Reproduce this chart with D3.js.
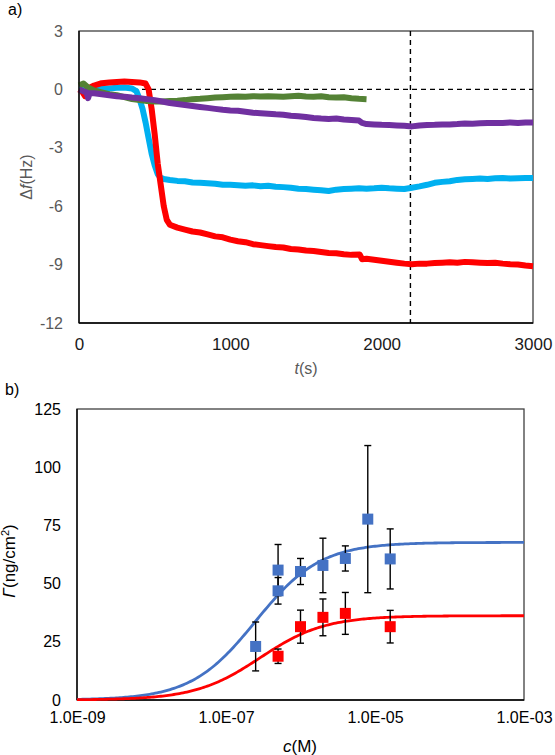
<!DOCTYPE html>
<html><head><meta charset="utf-8">
<script src="https://cdn.jsdelivr.net/npm/d3@7"></script>
<style>
html,body{margin:0;padding:0;background:#fff;}
svg{display:block;font-family:"Liberation Sans",Arial,sans-serif;}
</style></head>
<body>
<svg id="chart" width="555" height="755"></svg>
<script>
// ---------- Panel a) data: time (s), Δf (Hz) ----------
const redSeries = [[0,0],[20,-0.1],[40,-0.35],[60,0.05],[100,0.2],[150,0.32],[200,0.35],[250,0.38],[300,0.4],[350,0.38],[400,0.36],[440,0.3],[460,0.0],[480,-1.0],[500,-2.3],[520,-3.8],[540,-4.9],[560,-6.0],[580,-6.7],[600,-6.95],[650,-7.1],[700,-7.2],[750,-7.3],[800,-7.35],[850,-7.45],[900,-7.55],[950,-7.6],[1000,-7.72],[1050,-7.8],[1100,-7.85],[1150,-7.95],[1200,-8.0],[1250,-8.05],[1300,-8.1],[1350,-8.12],[1400,-8.2],[1450,-8.22],[1500,-8.28],[1550,-8.3],[1600,-8.35],[1650,-8.4],[1700,-8.42],[1750,-8.47],[1800,-8.5],[1855,-8.48],[1870,-8.72],[1900,-8.7],[1950,-8.75],[2000,-8.8],[2050,-8.85],[2100,-8.9],[2150,-8.95],[2200,-8.98],[2250,-8.95],[2300,-8.95],[2350,-8.92],[2400,-8.9],[2450,-8.88],[2500,-8.9],[2550,-8.86],[2600,-8.88],[2650,-8.9],[2700,-8.92],[2750,-8.9],[2800,-8.95],[2850,-8.98],[2900,-9.0],[2950,-9.05],[3000,-9.08]];
const cyanSeries = [[0,0.0],[50,-0.05],[100,0.0],[150,0.05],[200,0.05],[250,0.08],[300,0.1],[350,0.05],[380,-0.1],[400,-0.5],[420,-1.0],[440,-1.7],[460,-2.5],[480,-3.3],[500,-3.9],[520,-4.35],[540,-4.55],[560,-4.6],[600,-4.65],[650,-4.7],[700,-4.72],[750,-4.78],[800,-4.8],[850,-4.82],[900,-4.85],[950,-4.9],[1000,-4.9],[1050,-4.92],[1100,-4.95],[1150,-4.93],[1200,-4.97],[1250,-4.95],[1300,-5.0],[1350,-5.02],[1400,-5.05],[1450,-5.1],[1500,-5.12],[1550,-5.15],[1600,-5.18],[1650,-5.22],[1700,-5.15],[1750,-5.12],[1800,-5.1],[1850,-5.08],[1900,-5.1],[1950,-5.08],[2000,-5.05],[2050,-5.08],[2100,-5.1],[2150,-5.12],[2200,-5.05],[2250,-4.98],[2300,-4.9],[2350,-4.8],[2400,-4.75],[2450,-4.72],[2500,-4.65],[2550,-4.62],[2600,-4.6],[2650,-4.58],[2700,-4.6],[2750,-4.57],[2800,-4.55],[2850,-4.58],[2900,-4.56],[2950,-4.55],[3000,-4.55]];
const greenSeries = [[0,0.2],[30,0.3],[60,0.1],[100,-0.05],[150,-0.15],[200,-0.25],[250,-0.3],[300,-0.4],[350,-0.5],[400,-0.55],[450,-0.6],[500,-0.62],[550,-0.62],[600,-0.6],[650,-0.58],[700,-0.55],[750,-0.5],[800,-0.48],[850,-0.45],[900,-0.42],[950,-0.4],[1000,-0.38],[1050,-0.36],[1100,-0.38],[1150,-0.35],[1200,-0.37],[1250,-0.35],[1300,-0.36],[1350,-0.38],[1400,-0.35],[1450,-0.33],[1500,-0.36],[1550,-0.38],[1600,-0.35],[1650,-0.4],[1700,-0.42],[1750,-0.4],[1800,-0.45],[1850,-0.48],[1900,-0.5]];
const purpleSeries = [[0,0.0],[30,-0.1],[50,-0.15],[60,-0.45],[70,-0.2],[100,-0.2],[150,-0.25],[200,-0.3],[250,-0.35],[300,-0.38],[350,-0.42],[400,-0.45],[450,-0.5],[500,-0.55],[550,-0.62],[600,-0.7],[650,-0.75],[700,-0.8],[750,-0.85],[800,-0.9],[850,-0.95],[900,-1.0],[950,-1.05],[1000,-1.08],[1050,-1.1],[1100,-1.15],[1150,-1.2],[1200,-1.22],[1250,-1.25],[1300,-1.28],[1350,-1.3],[1400,-1.35],[1450,-1.38],[1500,-1.42],[1550,-1.47],[1600,-1.5],[1650,-1.52],[1700,-1.5],[1750,-1.55],[1800,-1.57],[1850,-1.6],[1870,-1.72],[1900,-1.78],[1950,-1.8],[2000,-1.82],[2050,-1.83],[2100,-1.85],[2150,-1.87],[2200,-1.9],[2250,-1.85],[2300,-1.83],[2350,-1.82],[2400,-1.8],[2450,-1.8],[2500,-1.78],[2550,-1.75],[2600,-1.76],[2650,-1.74],[2700,-1.73],[2750,-1.72],[2800,-1.72],[2850,-1.7],[2900,-1.72],[2950,-1.7],[3000,-1.7]];
const topXTicks = [0, 1000, 2000, 3000];
const topYTicks = [3, 0, -3, -6, -9, -12];
const refTime = 2190;   // vertical dashed marker (s)
const refZero = 0;      // horizontal dashed marker (Hz)

// ---------- Panel b) data: concentration (M), Γ (ng/cm²), error ----------
const blueConc = [2.5e-7, 5e-7, 5e-7, 1e-6, 2e-6, 4e-6, 8e-6, 1.6e-5];
const blueGamma = [23, 55.8, 46.9, 55.2, 57.8, 60.8, 77.7, 60.6];
const blueErr = [10.5, 11, 5.7, 5.6, 11.7, 5.4, 31.6, 12.9];
const redConc = [5e-7, 1e-6, 2e-6, 4e-6, 1.6e-5];
const redGamma = [18.8, 31.5, 35.5, 37.2, 31.5];
const redErr = [3.1, 7.1, 7.9, 9.0, 7.0];
// Langmuir fit parameters [Γmax, K]
const blueFit = [67.7, 4.0e6];
const redFit = [36.2, 3.5e6];
const botXTicks = [1e-9, 1e-7, 1e-5, 1e-3];
const botYTicks = [0, 25, 50, 75, 100, 125];

const svg = d3.select("#chart");
const FONT = "Liberation Sans, Arial, sans-serif";

// ================= Panel a =================
const xA = d3.scaleLinear().domain([0, 3000]).range([79, 533]);
const yA = d3.scaleLinear().domain([-12, 3]).range([323, 31]);

const gA = svg.append("g");
gA.append("rect").attr("x", 79).attr("y", 31).attr("width", 454).attr("height", 292)
  .attr("fill", "none").attr("stroke", "#404040").attr("stroke-width", 1.3);

gA.append("line").attr("x1", xA(0)).attr("x2", xA(3000)).attr("y1", yA(refZero)).attr("y2", yA(refZero))
  .attr("stroke", "#000").attr("stroke-width", 1.4).attr("stroke-dasharray", "5,4");
gA.append("line").attr("x1", xA(refTime)).attr("x2", xA(refTime)).attr("y1", yA(3)).attr("y2", yA(-12))
  .attr("stroke", "#000").attr("stroke-width", 1.4).attr("stroke-dasharray", "5,4");

const lineA = d3.line().x(d => xA(d[0])).y(d => yA(d[1]));
const seriesA = [
  {d: cyanSeries, c: "#00B0F0"},
  {d: redSeries, c: "#FF0000"},
  {d: greenSeries, c: "#548235"},
  {d: purpleSeries, c: "#7030A0"}
];
seriesA.forEach(s => {
  gA.append("path").attr("d", lineA(s.d)).attr("fill", "none")
    .attr("stroke", s.c).attr("stroke-width", 6)
    .attr("stroke-linejoin", "round").attr("stroke-linecap", "butt");
});

gA.append("line").attr("x1", 79).attr("x2", 79).attr("y1", 31).attr("y2", 323).attr("stroke", "#000").attr("stroke-width", 1.3);
gA.append("line").attr("x1", 79).attr("x2", 533).attr("y1", 323).attr("y2", 323).attr("stroke", "#000").attr("stroke-width", 1.3);

const axYA = gA.append("g").attr("transform", "translate(79,0)")
  .call(d3.axisLeft(yA).tickValues(topYTicks).tickSize(0).tickPadding(16).tickFormat(d => String(d)));
axYA.select(".domain").remove();
axYA.selectAll("text").attr("font-size", 16).attr("fill", "#595959").attr("font-family", FONT);

const axXA = gA.append("g").attr("transform", "translate(0,323)")
  .call(d3.axisBottom(xA).tickValues(topXTicks).tickSize(0).tickPadding(15).tickFormat(d => String(d)));
axXA.select(".domain").remove();
axXA.selectAll("text").attr("font-size", 17).attr("fill", "#1a1a1a").attr("font-family", FONT);

const tA = svg.append("text").attr("x", 306).attr("y", 374).attr("text-anchor", "middle")
  .attr("font-size", 16).attr("fill", "#595959");
tA.append("tspan").attr("font-style", "italic").text("t");
tA.append("tspan").text("(s)");

const yTitleA = svg.append("text").attr("transform", "translate(32,177) rotate(-90)")
  .attr("text-anchor", "middle").attr("font-size", 16).attr("fill", "#595959");
yTitleA.append("tspan").text("Δ");
yTitleA.append("tspan").attr("font-style", "italic").text("f");
yTitleA.append("tspan").text("(Hz)");

svg.append("text").attr("x", 8).attr("y", 15).attr("font-size", 16).attr("fill", "#000").text("a)");

// ================= Panel b =================
const xB = d3.scaleLog().domain([1e-9, 1e-3]).range([77, 524]);
const yB = d3.scaleLinear().domain([0, 125]).range([700, 409]);
const gB = svg.append("g");

gB.append("rect").attr("x", 77).attr("y", 409).attr("width", 447).attr("height", 291)
  .attr("fill", "none").attr("stroke", "#404040").attr("stroke-width", 1.3);
gB.append("line").attr("x1", 77).attr("x2", 77).attr("y1", 409).attr("y2", 700).attr("stroke", "#000").attr("stroke-width", 1.3);
gB.append("line").attr("x1", 77).attr("x2", 524).attr("y1", 700).attr("y2", 700).attr("stroke", "#000").attr("stroke-width", 1.3);

const cGrid = d3.range(0, 241).map(i => Math.pow(10, -9 + i * 6 / 240));
const fitLine = p => d3.line().x(c => xB(c)).y(c => yB(p[0] * p[1] * c / (1 + p[1] * c)))(cGrid);
gB.append("path").attr("d", fitLine(blueFit)).attr("fill", "none").attr("stroke", "#4472C4").attr("stroke-width", 2.8);
gB.append("path").attr("d", fitLine(redFit)).attr("fill", "none").attr("stroke", "#FF0000").attr("stroke-width", 2.8);

function drawPoints(conc, vals, errs, color) {
  const pts = conc.map((c, i) => ({c, v: vals[i], e: errs[i]}));
  const eg = gB.append("g").attr("stroke", "#000").attr("stroke-width", 1.4);
  pts.forEach(p => {
    const x = xB(p.c);
    eg.append("line").attr("x1", x).attr("x2", x).attr("y1", yB(p.v + p.e)).attr("y2", yB(p.v - p.e));
    eg.append("line").attr("x1", x - 3.5).attr("x2", x + 3.5).attr("y1", yB(p.v + p.e)).attr("y2", yB(p.v + p.e));
    eg.append("line").attr("x1", x - 3.5).attr("x2", x + 3.5).attr("y1", yB(p.v - p.e)).attr("y2", yB(p.v - p.e));
  });
  gB.append("g").selectAll("rect").data(pts).join("rect")
    .attr("x", d => xB(d.c) - 5.5).attr("y", d => yB(d.v) - 5.5)
    .attr("width", 11).attr("height", 11).attr("fill", color);
}
drawPoints(blueConc, blueGamma, blueErr, "#4472C4");
drawPoints(redConc, redGamma, redErr, "#FF0000");

const axYB = gB.append("g").attr("transform", "translate(77,0)")
  .call(d3.axisLeft(yB).tickValues(botYTicks).tickSize(0).tickPadding(16).tickFormat(d => String(d)));
axYB.select(".domain").remove();
axYB.selectAll("text").attr("font-size", 16).attr("fill", "#000").attr("font-family", FONT);

const axXB = gB.append("g").attr("transform", "translate(0,700)")
  .call(d3.axisBottom(xB).tickValues(botXTicks).tickSize(0).tickPadding(12)
    .tickFormat(d => { const e = Math.round(Math.log10(d)); return "1.0E" + (e < 0 ? "-" : "+") + String(Math.abs(e)).padStart(2, "0"); }));
axXB.select(".domain").remove();
axXB.selectAll("text").attr("font-size", 16).attr("fill", "#000").attr("font-family", FONT);

const tB = svg.append("text").attr("x", 300).attr("y", 752).attr("text-anchor", "middle")
  .attr("font-size", 17).attr("fill", "#000");
tB.append("tspan").attr("font-style", "italic").text("c");
tB.append("tspan").text("(M)");

const yTitleB = svg.append("text").attr("transform", "translate(15,561) rotate(-90)")
  .attr("text-anchor", "middle").attr("font-size", 17).attr("fill", "#000");
yTitleB.append("tspan").attr("font-style", "italic").text("Γ");
yTitleB.append("tspan").text("(ng/cm");
yTitleB.append("tspan").attr("font-size", 11).attr("dy", -6).text("2");
yTitleB.append("tspan").attr("dy", 6).text(")");

svg.append("text").attr("x", 5).attr("y", 395).attr("font-size", 16).attr("fill", "#000").text("b)");
</script>
</body></html>
